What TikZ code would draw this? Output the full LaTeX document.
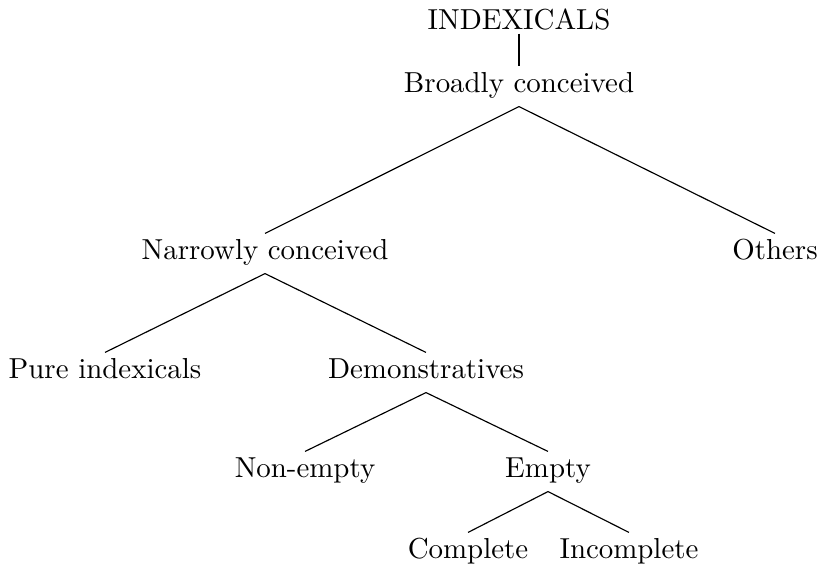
\documentclass[tikz,border=0pt]{standalone}
\begin{document}
\begin{tikzpicture}[x=0.346pt,y=-0.346pt,
  tnode/.style={anchor=base,inner sep=2pt,text height=6.65pt,text depth=2.84pt},
  rootnode/.style={anchor=base,inner sep=1.4pt,text depth=0pt},
  edge/.style={draw=black,line width=0.4pt}]
\useasboundingbox (0,0) rectangle (821,565);
\node[rootnode] (ind) at (519,29) {INDEXICALS};
\node[tnode] (broad) at (519,92) {Broadly conceived};
\node[tnode] (narrow) at (265,259) {Narrowly conceived};
\node[tnode] (others) at (775,259) {Others};
\node[tnode] (pure) at (105,378) {Pure indexicals};
\node[tnode] (demo) at (426,378) {Demonstratives};
\node[tnode] (nonempty) at (305,477) {Non-empty};
\node[tnode] (empty) at (548,477) {Empty};
\node[tnode] (complete) at (468,558) {Complete};
\node[tnode] (incomplete) at (629,558) {Incomplete};
\draw[edge] (ind.south) -- (broad.north);
\draw[edge] (broad.south) -- (narrow.north);
\draw[edge] (broad.south) -- (others.north);
\draw[edge] (narrow.south) -- (pure.north);
\draw[edge] (narrow.south) -- (demo.north);
\draw[edge] (demo.south) -- (nonempty.north);
\draw[edge] (demo.south) -- (empty.north);
\draw[edge] (empty.south) -- (complete.north);
\draw[edge] (empty.south) -- (incomplete.north);
\end{tikzpicture}
\end{document}
